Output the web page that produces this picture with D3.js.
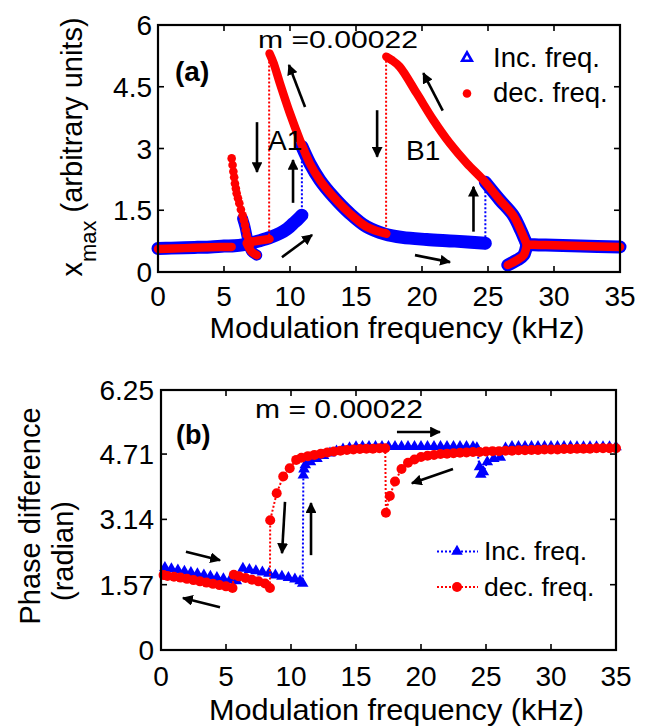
<!DOCTYPE html>
<html><head><meta charset="utf-8">
<script src="https://cdn.jsdelivr.net/npm/d3@7"></script>
<style>body{margin:0;background:#fff}svg{display:block}</style>
</head><body>
<svg id="c" width="646" height="728"></svg>
<script>
// ---------- data ----------
const xTicks = [0,5,10,15,20,25,30,35];
const topYTicks = [0,1.5,3,4.5,6];
const topYTickLabels = ["0","1.5","3","4.5","6"];
const botYTicks = [0,1.57,3.14,4.71,6.25];
const botYTickLabels = ["0","1.57","3.14","4.71","6.25"];
const seriesNames = ["Inc. freq.","dec. freq."];
const massLabelTop = "m =0.00022";
const massLabelBot = "m = 0.00022";

// top panel: x_max vs frequency (kHz), increasing sweep
const topIncA = [[0,0.57],[1,0.58],[2,0.59],[3,0.6],[4,0.61],[5,0.63],[5.8,0.64],[6.4,0.66],[7,0.7],[7.7,0.76],[8.5,0.84],[9.24,0.94],[9.8,1.05],[10.25,1.18],[10.6,1.28],[10.9,1.38]];
const topIncTongue = [[6.41,1.3],[6.5,1.2],[6.59,1.1],[6.72,0.9],[6.85,0.72],[7.1,0.5],[7.48,0.41]];
const topIncB = [[10.9,3.05],[11.5,2.64],[12.27,2.23],[13.28,1.83],[14.5,1.43],[15.8,1.1],[17.2,0.92],[18.5,0.84],[20.35,0.79],[22.5,0.75],[24.8,0.7]];
const topIncC = [[24.8,2.18],[25.9,1.75],[26.9,1.38],[27.5,1.0],[27.8,0.78],[27.95,0.68],[28.5,0.66],[30,0.65],[32,0.63],[35,0.61]];
const topIncCurl = [[27.95,0.68],[27.7,0.41],[27.2,0.29],[26.5,0.17]];
const topIncJumps = [[10.9,1.38,3.05],[24.8,0.55,2.18]];
// top panel, decreasing sweep
const topDecA = [[35,0.61],[32,0.63],[30,0.65],[28.5,0.66],[27.95,0.68],[27.8,0.78],[27.5,1.0],[26.9,1.38],[25.9,1.75],[24.65,2.23],[23.4,2.64],[22.1,3.13],[20.86,3.69],[19.6,4.34],[18.3,4.99],[17.7,5.15],[17.3,5.23]];
const topDecCurl = [[27.95,0.68],[27.7,0.41],[27.2,0.29],[26.5,0.17]];
const topDecB = [[17.3,0.93],[15.8,1.1],[14.5,1.43],[13.28,1.83],[12.27,2.23],[11.5,2.64],[10.76,3.2],[10.0,3.85],[9.24,4.58],[8.75,5.08],[8.45,5.31]];
const topDecC = [[8.45,0.8],[7.8,0.77],[7.2,0.74],[6.85,0.72]];
const topDecCurl2 = [[6.72,0.7],[7.1,0.49],[7.48,0.41]];
const topDecDots = [[6.97,0.66],[6.85,0.78],[6.72,0.9],[6.65,1.02],[6.59,1.14],[6.5,1.26],[6.41,1.38],[6.28,1.52],[6.16,1.67],[6.06,1.79],[5.96,1.91],[5.9,2.03],[5.83,2.15],[5.77,2.3],[5.71,2.44],[5.65,2.6],[5.58,2.76]];
const topDecD = [[5.58,0.61],[4,0.6],[2,0.58],[0,0.56]];
const topDecJumps = [[8.42,5.31,0.8],[17.28,5.23,0.93]];

// bottom panel: phase difference (rad) vs frequency, increasing sweep
const botInc = [[0.3,1.98],[0.8,1.95],[1.3,1.92],[1.8,1.89],[2.3,1.86],[2.8,1.83],[3.3,1.8],[3.8,1.77],[4.3,1.74],[4.8,1.71],[5.3,1.68],[5.8,1.66],
 [6.3,1.96],[6.8,1.93],[7.3,1.9],[7.8,1.87],[8.3,1.84],[8.8,1.8],[9.3,1.77],[9.8,1.74],[10.3,1.7],[10.7,1.66],[10.9,1.6],
 [10.95,4.2],[11.0,4.35],[11.1,4.45],[11.5,4.52],[12.0,4.6],[12.5,4.67],[13.0,4.73],[13.5,4.78],[14.0,4.83],[14.5,4.86],[15.0,4.88],[15.5,4.89],
 [16,4.89],[16.5,4.89],[17,4.89],[17.5,4.89],[18,4.89],[18.5,4.89],[19,4.89],[19.5,4.89],[20,4.89],[20.5,4.89],[21,4.89],[21.5,4.89],[22,4.89],[22.5,4.89],[23,4.89],[23.5,4.89],[24.0,4.88],
 [24.3,4.86],[24.5,4.4],[24.6,4.22],[24.8,4.28],[25.1,4.52],[25.6,4.6],[26.1,4.63],[26.5,4.85],[27,4.89],
 [27.5,4.89],[28,4.89],[28.5,4.89],[29,4.89],[29.5,4.89],[30,4.89],[30.5,4.89],[31,4.89],[31.5,4.89],[32,4.88],[32.5,4.88],[33,4.88],[33.5,4.88],[34,4.88],[34.5,4.88],[35,4.88]];
// decreasing sweep
const botDec = [[35,4.85],[34.5,4.85],[34,4.85],[33.5,4.85],[33,4.84],[32.5,4.84],[32,4.84],[31.5,4.83],[31,4.83],[30.5,4.82],[30,4.82],[29.5,4.82],[29,4.81],[28.5,4.81],[28,4.8],[27.5,4.8],[27,4.79],[26.5,4.79],[26,4.78],[25.5,4.78],[25,4.77],[24.5,4.76],[24,4.76],[23.5,4.75],[23,4.74],[22.5,4.73],[22,4.72],[21.5,4.71],[21,4.69],[20.5,4.67],[20,4.64],[19.5,4.58],[19,4.5],[18.5,4.35],[18,4.05],[17.6,3.7],[17.3,3.3],
 [17.25,4.85],[16.8,4.85],[16.3,4.84],[15.8,4.84],[15.3,4.83],[14.8,4.82],[14.3,4.81],[13.8,4.79],[13.3,4.77],[12.8,4.75],[12.3,4.72],[11.8,4.69],[11.3,4.66],[10.8,4.62],[10.4,4.57],[9.9,4.37],[9.4,4.17],[8.9,3.77],[8.4,3.12],
 [8.38,1.49],[8.0,1.6],[7.5,1.65],[7.0,1.69],[6.5,1.73],[6.0,1.77],[5.6,1.81],
 [5.5,1.49],[5.0,1.53],[4.5,1.56],[4.0,1.59],[3.5,1.62],[3.0,1.65],[2.5,1.68],[2.0,1.71],[1.5,1.74],[1.0,1.76],[0.5,1.78],[0.2,1.8]];

// annotation arrows in data coordinates [f0,v0,f1,v1]
const topArrows = [[11.14,4.01,9.92,5.03],[7.5,3.64,7.5,2.43],[10.23,1.68,10.23,2.72],[9.39,0.36,11.67,0.9],[16.6,3.93,16.6,2.8],[21.57,3.92,20.1,4.83],[23.9,0.98,23.9,2.07],[19.47,0.41,22.12,0.24]];
const botArrows = [[18.15,5.24,21.46,5.24],[22.46,4.35,19.3,4.01],[9.54,3.56,9.31,2.33],[11.54,2.28,11.54,3.53],[1.92,2.36,4.54,2.16],[4.54,1.03,1.69,1.25]];

// ---------- drawing ----------
const BLUE = "#0000ff", RED = "#ff0000";
const FONT = "'Liberation Sans', Arial, Helvetica, sans-serif";
const svg = d3.select("#c").style("font-family", FONT);
svg.append("rect").attr("width",646).attr("height",728).attr("fill","#fff");
const defs = svg.append("defs");
defs.append("marker").attr("id","ah").attr("viewBox","0 0 10 10").attr("refX",9).attr("refY",5)
  .attr("markerWidth",4.2).attr("markerHeight",4.2).attr("markerUnits","strokeWidth").attr("orient","auto")
  .append("path").attr("d","M0,0 L10,5 L0,10 Z").attr("fill","#000");

function frame(g, x, y, yTicks, yLabels, yLabelX) {
  const [x0,x1] = x.range(), [y0,y1] = y.range();
  const t = 6;
  xTicks.forEach(v => {
    const px = x(v);
    g.append("line").attr("x1",px).attr("x2",px).attr("y1",y0).attr("y2",y0-t).attr("stroke","#000").attr("stroke-width",1.6);
    g.append("line").attr("x1",px).attr("x2",px).attr("y1",y1).attr("y2",y1+t).attr("stroke","#000").attr("stroke-width",1.6);
  });
  yTicks.forEach(v => {
    const py = y(v);
    g.append("line").attr("x1",x0).attr("x2",x0+t).attr("y1",py).attr("y2",py).attr("stroke","#000").attr("stroke-width",1.6);
    g.append("line").attr("x1",x1).attr("x2",x1-t).attr("y1",py).attr("y2",py).attr("stroke","#000").attr("stroke-width",1.6);
  });
  g.append("rect").attr("x",x0).attr("y",y1).attr("width",x1-x0).attr("height",y0-y1)
    .attr("fill","none").attr("stroke","#000").attr("stroke-width",2.2);
  yTicks.forEach((v,i) => {
    g.append("text").attr("x",yLabelX).attr("y",y(v)+10).attr("text-anchor","end")
      .attr("font-size",28).text(yLabels[i]);
  });
}
function xLabels(g, x, baseY, titleY) {
  xTicks.forEach(v => g.append("text").attr("x",x(v)).attr("y",baseY).attr("text-anchor","middle").attr("font-size",28).text(v));
  g.append("text").attr("x",(x.range()[0]+x.range()[1])/2 + 8).attr("y",titleY).attr("text-anchor","middle")
    .attr("font-size",29).attr("textLength",375).attr("lengthAdjust","spacingAndGlyphs").text("Modulation frequency (kHz)");
}
function arrows(g, x, y, list) {
  list.forEach(a => g.append("line").attr("x1",x(a[0])).attr("y1",y(a[1])).attr("x2",x(a[2])).attr("y2",y(a[3]))
    .attr("stroke","#000").attr("stroke-width",2.6).attr("marker-end","url(#ah)"));
}

// ===== top panel =====
const xT = d3.scaleLinear().domain([0,35]).range([158,620]);
const yT = d3.scaleLinear().domain([0,6]).range([272,25]);
const gT = svg.append("g");
const lineT = d3.line().x(d=>xT(d[0])).y(d=>yT(d[1])).curve(d3.curveCatmullRom.alpha(0.5));

const gData = gT.append("g");
topIncJumps.forEach(j => gData.append("line").attr("x1",xT(j[0])).attr("x2",xT(j[0])).attr("y1",yT(j[1])).attr("y2",yT(j[2]))
  .attr("stroke",BLUE).attr("stroke-width",2).attr("stroke-dasharray","2,2"));
[[topIncA,13],[topIncTongue,11],[topIncB,13],[topIncC,13],[topIncCurl,13]].forEach(s =>
  gData.append("path").attr("d",lineT(s[0])).attr("fill","none").attr("stroke",BLUE).attr("stroke-width",s[1])
    .attr("stroke-linecap","round").attr("stroke-linejoin","round"));
topDecJumps.forEach(j => gData.append("line").attr("x1",xT(j[0])).attr("x2",xT(j[0])).attr("y1",yT(j[1])).attr("y2",yT(j[2]))
  .attr("stroke",RED).attr("stroke-width",2).attr("stroke-dasharray","2,2"));
[topDecA, topDecCurl, topDecB, topDecC, topDecCurl2, topDecD].forEach(s =>
  gData.append("path").attr("d",lineT(s)).attr("fill","none").attr("stroke",RED).attr("stroke-width",8.5)
    .attr("stroke-linecap","round").attr("stroke-linejoin","round"));
gData.selectAll("circle.dd").data(topDecDots).enter().append("circle")
  .attr("cx",d=>xT(d[0])).attr("cy",d=>yT(d[1])).attr("r",4.3).attr("fill",RED);

frame(gT, xT, yT, topYTicks, topYTickLabels, 152);
xLabels(gT, xT, 306, 338);
arrows(gT, xT, yT, topArrows);

const yt = gT.append("text").attr("transform","translate(82,147) rotate(-90)").attr("text-anchor","middle").attr("font-size",29);
yt.append("tspan").text("x");
yt.append("tspan").attr("font-size",22).attr("dy",14).text("max");
yt.append("tspan").attr("dy",-14).text(" (arbitrary units)");

gT.append("text").attr("x",175).attr("y",81).attr("font-size",28).attr("font-weight","bold").text("(a)");
gT.append("text").attr("x",258).attr("y",48).attr("font-size",24).attr("textLength",160).attr("lengthAdjust","spacingAndGlyphs").text(massLabelTop);
gT.append("text").attr("x",268).attr("y",150).attr("font-size",28).text("A1");
gT.append("text").attr("x",406).attr("y",160).attr("font-size",28).text("B1");
gT.append("path").attr("d",d3.symbol(d3.symbolTriangle,40)()).attr("transform","translate(467,58)")
  .attr("fill","none").attr("stroke",BLUE).attr("stroke-width",2.6);
gT.append("circle").attr("cx",467).attr("cy",93.5).attr("r",4.3).attr("fill",RED);
gT.append("text").attr("x",493).attr("y",67).attr("font-size",27.5).text(seriesNames[0]);
gT.append("text").attr("x",493).attr("y",102).attr("font-size",27.5).text(seriesNames[1]);

// ===== bottom panel =====
const xB = d3.scaleLinear().domain([0,35]).range([161,616]);
const yB = d3.scaleLinear().domain([0,6.25]).range([650,390]);
const gB = svg.append("g");
const lineB = d3.line().x(d=>xB(d[0])).y(d=>yB(d[1]));
gB.append("path").attr("d",lineB(botInc)).attr("fill","none").attr("stroke",BLUE).attr("stroke-width",2).attr("stroke-dasharray","2,2");
gB.selectAll("path.tri").data(botInc).enter().append("path").attr("class","tri")
  .attr("d",d3.symbol(d3.symbolTriangle,58)()).attr("transform",d=>`translate(${xB(d[0])},${yB(d[1])})`).attr("fill",BLUE);
gB.append("path").attr("d",lineB(botDec)).attr("fill","none").attr("stroke",RED).attr("stroke-width",2).attr("stroke-dasharray","2,2");
gB.selectAll("circle.rd").data(botDec).enter().append("circle").attr("class","rd")
  .attr("cx",d=>xB(d[0])).attr("cy",d=>yB(d[1])).attr("r",5).attr("fill",RED);

frame(gB, xB, yB, botYTicks, botYTickLabels, 154);
xLabels(gB, xB, 686, 720);
arrows(gB, xB, yB, botArrows);

gB.append("text").attr("transform","translate(40,516) rotate(-90)").attr("text-anchor","middle").attr("font-size",29).text("Phase difference");
gB.append("text").attr("transform","translate(73,551) rotate(-90)").attr("text-anchor","middle").attr("font-size",29).text("(radian)");
gB.append("text").attr("x",176).attr("y",444).attr("font-size",27).attr("font-weight","bold").text("(b)");
gB.append("text").attr("x",255).attr("y",418).attr("font-size",26).attr("textLength",168).attr("lengthAdjust","spacingAndGlyphs").text(massLabelBot);
[[551.5,BLUE,0],[587,RED,1]].forEach(r => {
  gB.append("line").attr("x1",437).attr("x2",478).attr("y1",r[0]).attr("y2",r[0]).attr("stroke",r[1]).attr("stroke-width",2).attr("stroke-dasharray","2,2");
  if (r[2]===0) gB.append("path").attr("d",d3.symbol(d3.symbolTriangle,58)()).attr("transform",`translate(457,${r[0]})`).attr("fill",BLUE);
  else gB.append("circle").attr("cx",457).attr("cy",r[0]).attr("r",5).attr("fill",RED);
  gB.append("text").attr("x",484).attr("y",r[0]+8.5).attr("font-size",26.5).text(seriesNames[r[2]]);
});
</script>
</body></html>
